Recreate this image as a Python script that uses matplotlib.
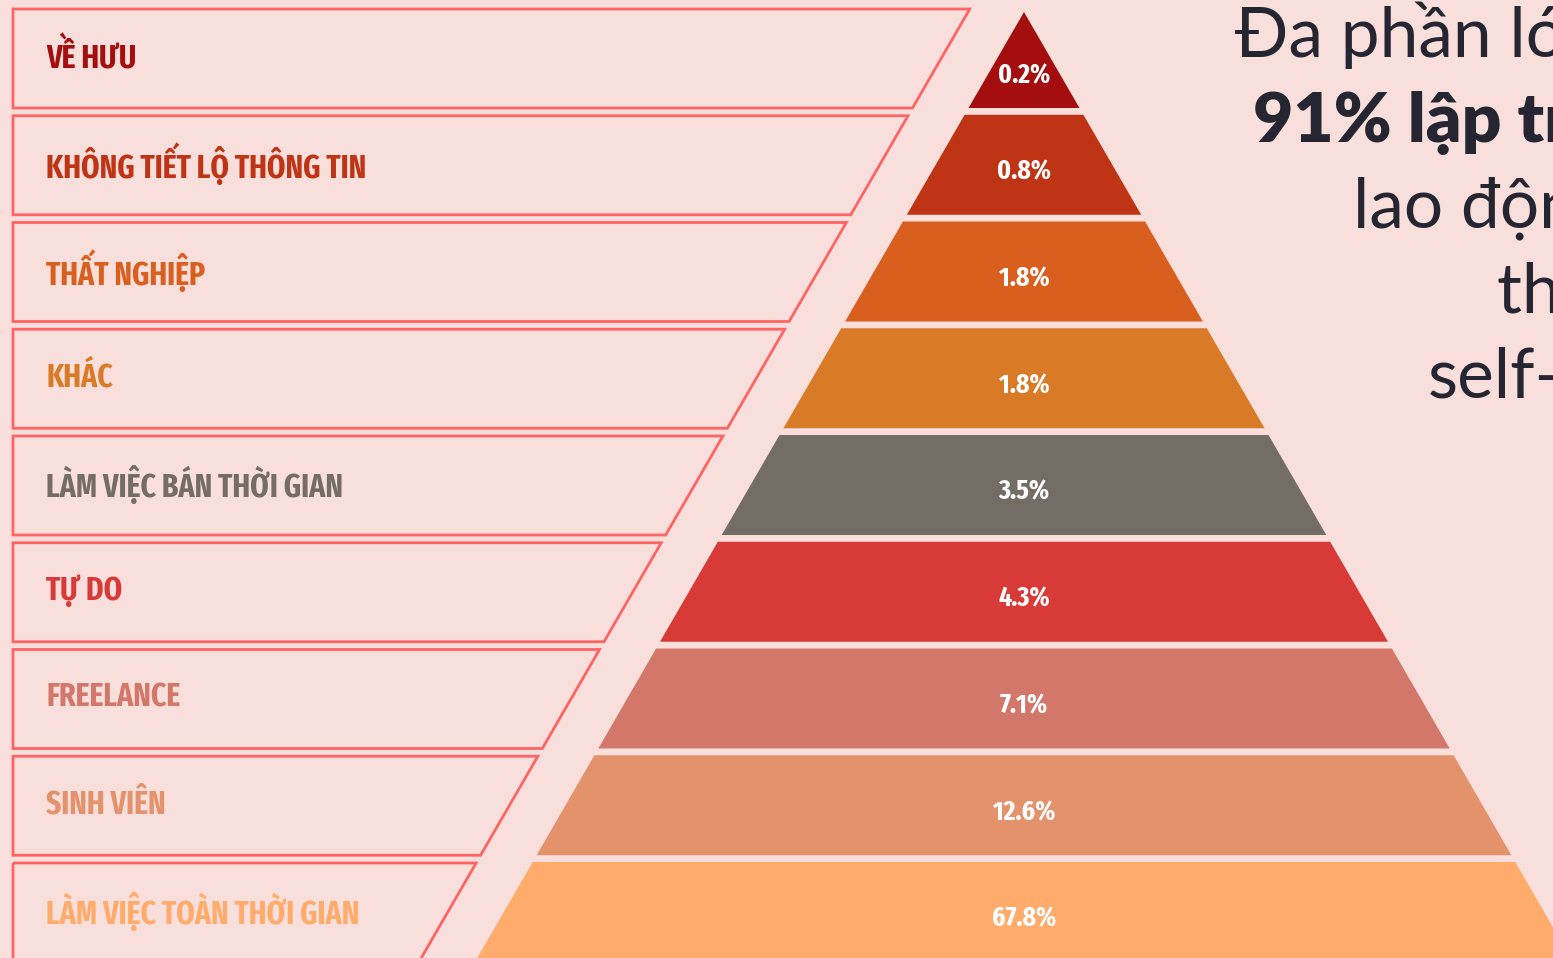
import os
import matplotlib
matplotlib.use("Agg")
import matplotlib.pyplot as plt
from matplotlib.patches import Polygon
from matplotlib import font_manager
from matplotlib.font_manager import FontProperties

# du lieu kim tu thap (tu dinh xuong day)
categories = ["VỀ HƯU", "KHÔNG TIẾT LỘ THÔNG TIN", "THẤT NGHIỆP", "KHÁC",
              "LÀM VIỆC BÁN THỜI GIAN", "TỰ DO", "FREELANCE", "SINH VIÊN",
              "LÀM VIỆC TOÀN THỜI GIAN"]
values = [0.2, 0.8, 1.8, 1.8, 3.5, 4.3, 7.1, 12.6, 67.8]
colors = ["#A50E0E", "#BE3415", "#D95F1F", "#D97A27", "#736D66",
          "#D83A38", "#D3776A", "#E4926B", "#FFAB6B"]

side_lines = ["Đa phần lớn lập trình viên", "91% lập trình viên là",
              "lao động toàn", "thời gian hoặc", "self-employed"]
side_bold = [False, True, False, False, False]
side_x = [1235, 1253, 1353, 1497, 1428]

bg = "#F9DFDC"
edge = "#FF6464"


# tim font chu hep (condensed) dam nhat co the
def pick_narrow():
    best, best_score = None, None
    for f in font_manager.fontManager.ttflist:
        base = os.path.basename(f.fname).lower()
        if f.style != "normal":
            continue
        if not ("condensed" in base or "narrow" in base or "cond" in base):
            continue
        w = f.weight if isinstance(f.weight, int) else font_manager.weight_dict.get(f.weight, 400)
        if "extracondensed" in base or "ultracondensed" in base or "extra-condensed" in base:
            s = 0
        elif "semicondensed" in base or "semi" in base:
            s = 2
        else:
            s = 1
        score = (s, abs(w - 700))
        if best_score is None or score < best_score:
            best, best_score = f.fname, score
    return best


narrow_path = pick_narrow()
if narrow_path:
    fp_narrow = FontProperties(fname=narrow_path)
else:
    fp_narrow = FontProperties(family="DejaVu Sans", weight="bold")

names = {f.name for f in font_manager.fontManager.ttflist}
side_font = ["Lato", "DejaVu Sans"] if "Lato" in names else ["DejaVu Sans"]

W, H = 1553, 958
fig = plt.figure(figsize=(W / 100, H / 100), dpi=100, facecolor=bg)
ax = fig.add_axes([0, 0, 1, 1])
ax.set_xlim(0, W)
ax.set_ylim(H, 0)
ax.axis("off")
ax.set_facecolor(bg)
renderer = fig.canvas.get_renderer()


def fit_size(txt, target_px, maxsize):
    p = fp_narrow.copy()
    p.set_size(10)
    t = ax.text(0, 0, txt, fontproperties=p)
    w = t.get_window_extent(renderer=renderer).width
    t.remove()
    return min(maxsize, 10 * target_px / w)


label_size = fit_size("KHÔNG TIẾT LỘ THÔNG TIN", 320, 34)
pct_size = fit_size("0.2%", 52, 22)
fp_label = fp_narrow.copy()
fp_label.set_size(label_size)
fp_pct = fp_narrow.copy()
fp_pct.set_size(pct_size)

apex_x, apex_y = 1024, 12
k = 0.578  # nua be rong / chieu cao (tam giac deu)
step, band = 106.75, 100


def half(y):
    return k * (y - apex_y)


for i, cat in enumerate(categories):
    top = 8 + step * i
    bot = top + band
    t = max(top, apex_y)
    pts = [(apex_x - half(t), t), (apex_x + half(t), t),
           (apex_x + half(bot), bot), (apex_x - half(bot), bot)]
    ax.add_patch(Polygon(pts, closed=True, facecolor=colors[i], edgecolor="none"))

    # so phan tram
    if i == 0:
        py = apex_y + 0.64 * (bot - apex_y) + 2
    else:
        py = top + band / 2 + 7
    ax.text(apex_x, py, f"{values[i]}%", color="white", fontproperties=fp_pct,
            ha="center", va="center")

    # khung nhan ben trai
    bt = top + 1
    rx_t = apex_x - half(bt) - 56
    rx_b = apex_x - half(bot) - 56
    box = [(13, bt), (rx_t, bt), (rx_b, bot), (13, bot)]
    ax.add_patch(Polygon(box, closed=True, facecolor="none", edgecolor=edge,
                         linewidth=2.0))
    ax.text(46, (bt + bot) / 2 - 1, cat, color=colors[i], fontproperties=fp_label,
            ha="left", va="center")

# doan chu ben phai (bi cat o mep anh nhu ban goc)
for j, line in enumerate(side_lines):
    ax.text(side_x[j], 57 + 85.3 * j, line, color="#262632", fontsize=50,
            fontweight="heavy" if side_bold[j] else "normal",
            ha="left", va="baseline", family=side_font, clip_on=False)

fig.savefig("out.png", dpi=100, facecolor=bg)
